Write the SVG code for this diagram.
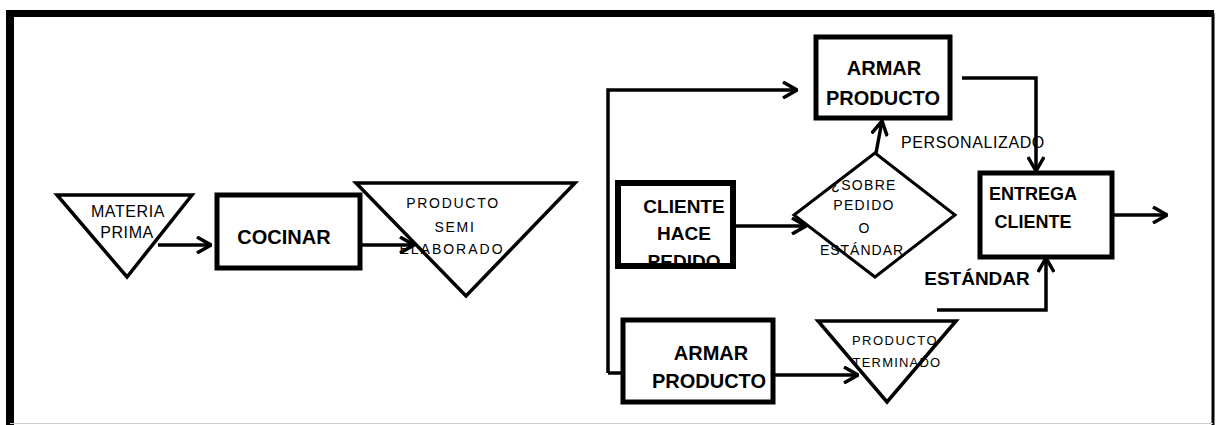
<svg xmlns="http://www.w3.org/2000/svg" width="1222" height="425" viewBox="0 0 1222 425">
<defs>
<style>
.box{fill:#fff;stroke:#000;stroke-width:5}
.tri{fill:#fff;stroke:#000;stroke-width:3.5;stroke-linejoin:miter}
.con{fill:none;stroke:#000;stroke-width:3.5}
.b{font-family:"Liberation Sans",Arial,sans-serif;font-weight:bold;fill:#000;text-anchor:middle}
.n{font-family:"Liberation Sans",Arial,sans-serif;font-weight:normal;fill:#000;text-anchor:middle}
</style>
<marker id="chev" markerUnits="userSpaceOnUse" viewBox="0 0 16 18" refX="15" refY="9" markerWidth="16" markerHeight="18" orient="auto">
<path d="M1,1 L15,9 L1,17" fill="none" stroke="#000" stroke-width="3.5"/>
</marker>
<marker id="fill" markerUnits="userSpaceOnUse" viewBox="0 0 16 18" refX="15" refY="9" markerWidth="16" markerHeight="18" orient="auto">
<path d="M0,1 L16,9 L0,17 Z" fill="#000"/>
</marker>
</defs>
<rect width="1222" height="425" fill="#fff"/>
<g id="frame">
<line x1="10" y1="13.5" x2="1214" y2="13.5" stroke="#000" stroke-width="7"/>
<line x1="10" y1="10" x2="10" y2="425" stroke="#000" stroke-width="8"/>
<line x1="1213" y1="13" x2="1213" y2="425" stroke="#000" stroke-width="3"/>
<line x1="10" y1="423.5" x2="1213" y2="423.5" stroke="#ccc" stroke-width="1"/>
</g>
<g id="connectors">
<line class="con" x1="158" y1="245" x2="211" y2="245" marker-end="url(#chev)"/>
<line class="con" x1="362" y1="245" x2="414" y2="245" marker-end="url(#chev)"/>
<path class="con" d="M608,373 V90 H797" marker-end="url(#chev)"/>
<path class="con" d="M608,373 H636" marker-end="url(#fill)"/>
<line class="con" x1="735" y1="226" x2="806" y2="226" marker-end="url(#chev)"/>
<line class="con" x1="876" y1="153" x2="882" y2="121" marker-end="url(#chev)"/>
<path class="con" d="M962,78 H1036 V171" marker-end="url(#chev)"/>
<line class="con" x1="1105" y1="215" x2="1167" y2="215" marker-end="url(#chev)"/>
<line class="con" x1="774" y1="375" x2="858" y2="375" marker-end="url(#chev)"/>
<path class="con" d="M937,310 H1046 V258" marker-end="url(#chev)"/>
</g>
<g id="materia-prima">
<polygon class="tri" points="57,195 192,195 127,277"/>
<text class="n" x="128" y="217" font-size="16" letter-spacing="0.6">MATERIA</text>
<text class="n" x="127" y="238" font-size="16" letter-spacing="0.6">PRIMA</text>
</g>
<g id="cocinar">
<rect class="box" x="217" y="195" width="143" height="73"/>
<text class="b" x="284" y="244" font-size="20">COCINAR</text>
</g>
<g id="producto-semi">
<polygon class="tri" points="356,183 575,183 466,296" fill-opacity="0"/>
<text class="n" x="453" y="208" font-size="14" letter-spacing="1.7">PRODUCTO</text>
<text class="n" x="455" y="232" font-size="14" letter-spacing="1.7">SEMI</text>
<text class="n" x="452" y="254" font-size="14" letter-spacing="2">ELABORADO</text>
</g>
<g id="armar-top">
<rect class="box" x="816" y="37" width="134" height="81"/>
<text class="b" x="884" y="75" font-size="20">ARMAR</text>
<text class="b" x="883" y="105" font-size="20">PRODUCTO</text>
</g>
<g id="cliente">
<rect x="618" y="183" width="115" height="83" fill="#fff"/>
<text class="b" x="684" y="213" font-size="19">CLIENTE</text>
<text class="b" x="684" y="240" font-size="19">HACE</text>
<text class="b" x="684" y="268" font-size="19">PEDIDO</text>
<rect x="618" y="183" width="115" height="83" fill="none" stroke="#000" stroke-width="6"/>
</g>
<g id="decision">
<polygon points="875,153 955,215 875,277 794,215" fill="none" stroke="#000" stroke-width="3"/>
<text class="n" x="864" y="190" font-size="14" letter-spacing="1.3">¿SOBRE</text>
<text class="n" x="864" y="210" font-size="14" letter-spacing="1.3">PEDIDO</text>
<text class="n" x="864" y="233" font-size="14">O</text>
<text class="n" x="862" y="255" font-size="14" letter-spacing="1">ESTÁNDAR</text>
</g>
<g id="personalizado">
<text class="n" x="973" y="148" font-size="16" letter-spacing="0.6">PERSONALIZADO</text>
</g>
<g id="entrega">
<rect class="box" x="980" y="173" width="132" height="84"/>
<text class="b" x="1033" y="200" font-size="18">ENTREGA</text>
<text class="b" x="1033" y="228" font-size="18">CLIENTE</text>
</g>
<g id="estandar">
<text class="b" x="977" y="285" font-size="19">ESTÁNDAR</text>
</g>
<g id="armar-bottom">
<rect class="box" x="623" y="320" width="150" height="82"/>
<text class="b" x="711" y="360" font-size="20">ARMAR</text>
<text class="b" x="709" y="388" font-size="20">PRODUCTO</text>
</g>
<g id="producto-terminado">
<polygon class="tri" points="818,321 956,321 887,402" fill-opacity="0"/>
<text class="n" x="895" y="345" font-size="13" letter-spacing="1.5">PRODUCTO</text>
<text class="n" x="897" y="367" font-size="13" letter-spacing="1.2">TERMINADO</text>
</g>
</svg>
